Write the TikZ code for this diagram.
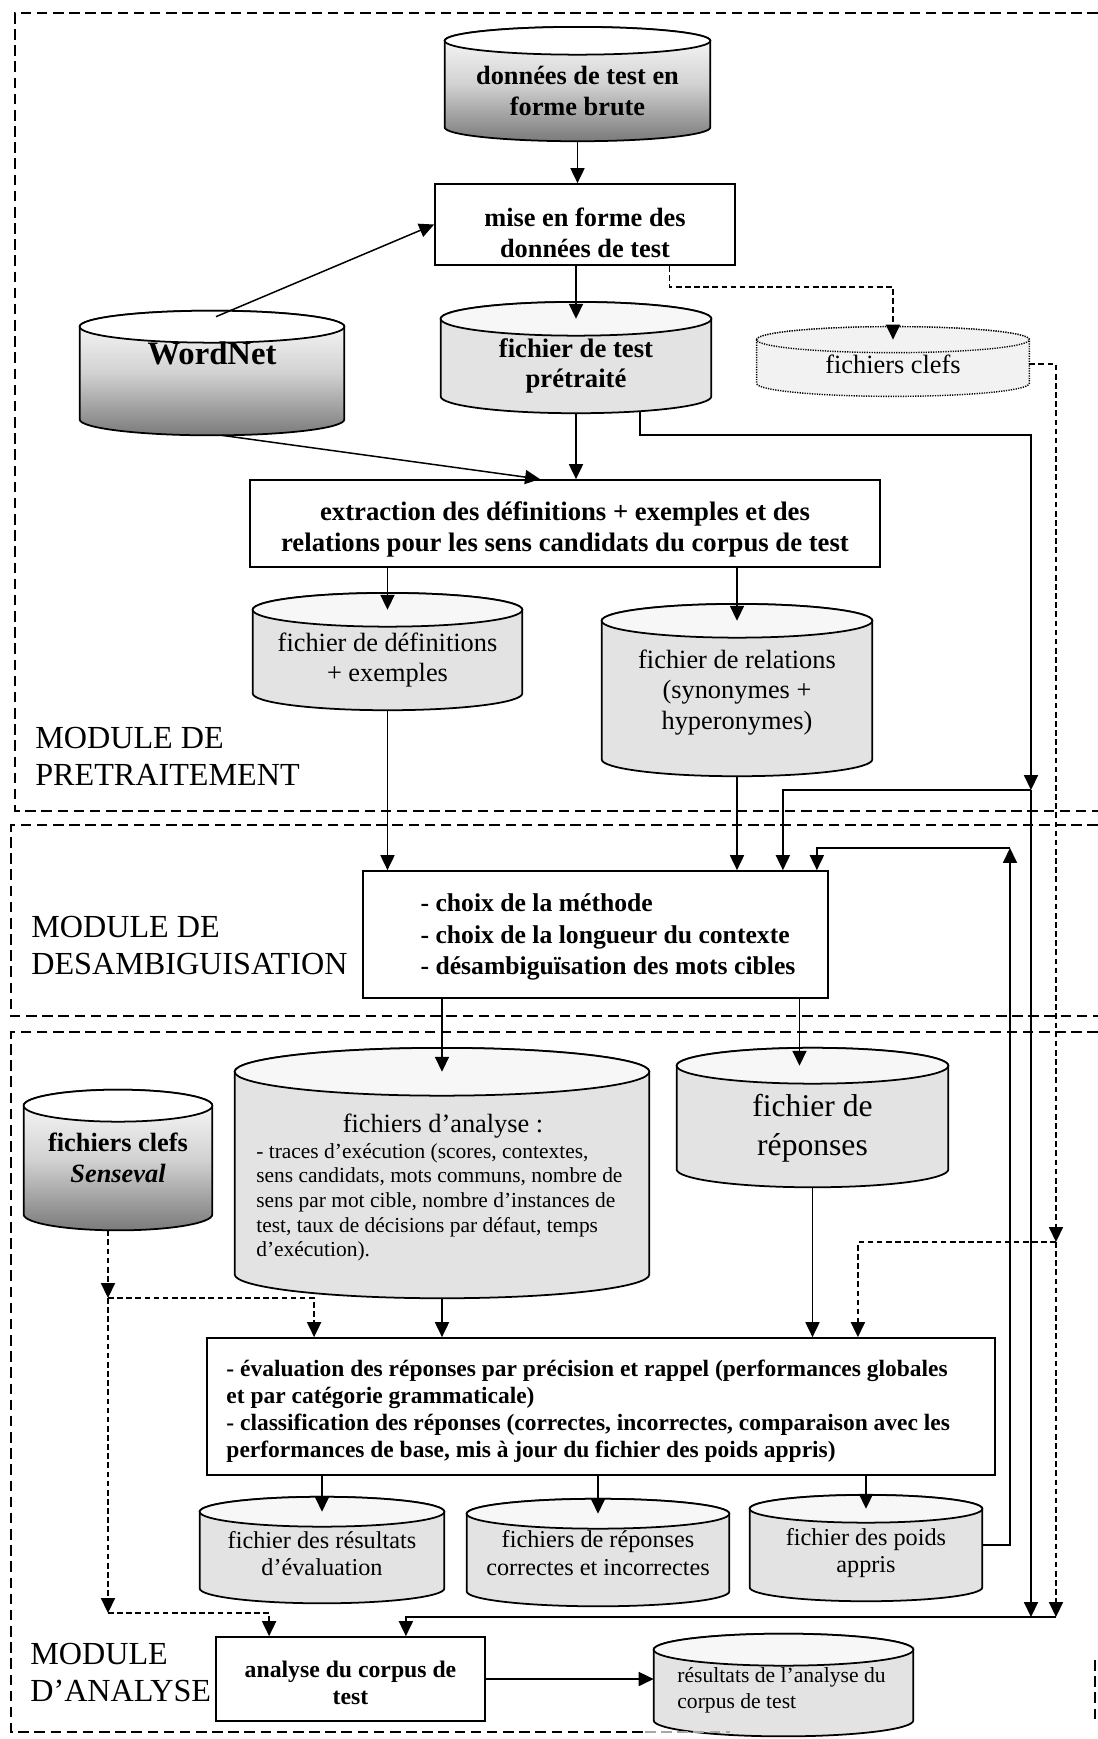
\documentclass[tikz,border=0pt]{standalone}
\usepackage{fontspec}
\setmainfont{Liberation Serif}
\usetikzlibrary{arrows.meta,calc,fit,backgrounds}

% Storage drum behind a node: the node spans the visible body from the
% front rim of the top face down to the centre of the bottom face.
% #1 node name, #2 half height of the end ellipses, #3 body style, #4 top style
\newcommand\drum[4]{%
  \path[#3] let \p1=(#1.north west), \p2=(#1.south east), \n1={0.5*(\x2-\x1)} in
    (\x1,{\y1+#2}) -- (\x1,\y2)
    arc[start angle=180,end angle=360,x radius=\n1*1pt,y radius=#2]
    -- (\x2,{\y1+#2})
    arc[start angle=0,end angle=180,x radius=\n1*1pt,y radius=#2] -- cycle;
  \coordinate (#1-top) at ($(#1.north)+(0pt,#2)$);
  \coordinate (#1-bot) at ($(#1.south)-(0pt,#2)$);
  \path[#4] let \p1=(#1.north west), \p2=(#1.south east), \n1={0.5*(\x2-\x1)} in
    (#1-top) ellipse[x radius=\n1*1pt,y radius=#2];
}

\begin{document}
\begin{tikzpicture}[x=0.02cm,y=-0.02cm,
  frame/.style={line width=1.1pt, dash pattern=on 6pt off 3.2pt},
  box/.style={draw, line width=1pt, inner sep=0pt},
  drumnode/.style={inner sep=0pt},
  txt/.style={inner sep=0pt},
  arr/.style={line width=0.85pt, -{Triangle[length=8.5pt,width=8pt]}},
  darr/.style={arr, dash pattern=on 3.2pt off 2pt},
  bt/.style={font=\fontsize{15}{17.5}\selectfont\bfseries, align=center},
  rt/.style={font=\fontsize{15}{17.5}\selectfont, align=center},
  ot/.style={font=\fontsize{13.8}{15.8}\selectfont, align=center},
  modlabel/.style={font=\fontsize{18.3}{20.7}\selectfont, align=left, inner sep=0pt, anchor=north west},
  greybody/.style={draw, line width=1pt, fill=black!11},
  greytop/.style={draw, line width=1pt, fill=black!3},
  shadebody/.style={draw, line width=1pt, top color=white, bottom color=black!52, middle color=black!18},
  whitetop/.style={draw, line width=1pt, fill=white},
  dotbody/.style={draw, line width=0.8pt, dash pattern=on 0.7pt off 0.7pt, fill=black!5},
]
\useasboundingbox (0,0) rectangle (1098,1739);

% module frames
\draw[frame] (1098,13) -- (15,13) -- (15,811) -- (1098,811);
\draw[frame] (1098,825) -- (11,825) -- (11,1016) -- (1098,1016);
\draw[frame] (1098,1032) -- (11,1032) -- (11,1732) -- (645,1732);
\draw[frame, black!35] (645,1732) -- (730,1732);
\draw[frame] (1095,1660) -- (1095,1723);

% module names
\node[modlabel] (lblP) at (35,727) {MODULE DE\\PRETRAITEMENT};
\node[modlabel] (lblD) at (31,916) {MODULE DE\\DESAMBIGUISATION};
\node[modlabel] (lblA) at (30,1643) {MODULE\\D’ANALYSE};

% processing steps
\node[box,fit={(435,184) (735,265)}] (mise) {};
\node[box,fit={(250,480) (880,567)}] (extr) {};
\node[box,fit={(363,871) (828,998)}] (desamb) {};
\node[box,fit={(207,1338) (995,1475)}] (eval) {};
\node[box,fit={(216,1637) (485,1721)}] (anl) {};

\node[txt,bt] (mise-t) at ($(mise)+(0,8)$) {mise en forme des\\données de test};
\node[txt,bt,font=\fontsize{15.2}{17.8}\selectfont\bfseries] (extr-t) at ($(extr)+(0,6)$) {extraction des définitions + exemples et des\\relations pour les sens candidats du corpus de test};
\node[txt,bt,align=left,font=\fontsize{14.6}{17.8}\selectfont\bfseries] (desamb-t) at (608,937) {- choix de la méthode\\- choix de la longueur du contexte\\- désambiguïsation des mots cibles};
\node[txt,anchor=west,align=left,font=\fontsize{13.35}{15.3}\selectfont\bfseries] (eval-t) at ($(eval.west)+(20,5)$) {- évaluation des réponses par précision et rappel (performances globales\\et par catégorie grammaticale)\\- classification des réponses (correctes, incorrectes, comparaison avec les\\performances de base, mis à jour du fichier des poids appris)};
\node[txt,align=center,font=\fontsize{13.5}{15.7}\selectfont\bfseries] (anl-t) at ($(anl)+(0,4)$) {analyse du corpus de\\test};

% data stores
\node[drumnode,fit={(445,55) (710,127)}] (brute) {};
\node[drumnode,fit={(80,343) (344,419)}] (wn) {};
\node[drumnode,fit={(441,336) (711,396)}] (pre) {};
\node[drumnode,fit={(757,353) (1029,383)}] (clefs) {};
\node[drumnode,fit={(253,627) (522,693)}] (defs) {};
\node[drumnode,fit={(602,638) (872,759)}] (rel) {};
\node[drumnode,fit={(24,1122) (212,1214)}] (sens) {};
\node[drumnode,fit={(235,1096) (649,1274)}] (ana) {};
\node[drumnode,fit={(677,1084) (948,1169)}] (rep) {};
\node[drumnode,fit={(200,1527) (444,1588)}] (o1) {};
\node[drumnode,fit={(467,1529) (729,1591)}] (o2) {};
\node[drumnode,fit={(750,1523) (982,1587)}] (o3) {};
\node[drumnode,fit={(654,1666) (913,1720)}] (resa) {};

\node[txt,bt] (brute-t) at (brute) {données de test en\\forme brute};
\node[txt,font=\fontsize{18.6}{21}\selectfont\bfseries] (wn-t) at ($(wn)+(0,-28)$) {WordNet};
\node[txt,bt,font=\fontsize{15.2}{17.5}\selectfont\bfseries] (pre-t) at (pre) {fichier de test\\prétraité};
\node[txt,rt] (clefs-t) at ($(clefs)+(0,-4)$) {fichiers clefs};
\node[txt,rt] (defs-t) at (defs) {fichier de définitions\\+ exemples};
\node[txt,rt] (rel-t) at ($(rel)+(0,-6)$) {fichier de relations\\(synonymes +\\hyperonymes)};
\node[txt,bt] (sens-t) at ($(sens)+(0,-10)$) {fichiers clefs\\\textit{Senseval}};
\node[txt,font=\fontsize{15}{17}\selectfont] (ana-t) at (443,1126) {fichiers d’analyse :};
\node[txt,font=\fontsize{12.2}{14}\selectfont,align=left,anchor=north west] (ana-l) at (256,1143) {- traces d’exécution (scores, contextes,\\sens candidats, mots communs, nombre de\\sens par mot cible, nombre d’instances de\\test, taux de décisions par défaut, temps\\d’exécution).};
\node[txt,font=\fontsize{18}{22}\selectfont,align=center] (rep-t) at ($(rep)+(0,2)$) {fichier de\\réponses};
\node[txt,ot] (o1-t) at ($(o1)+(0,-4)$) {fichier des résultats\\d’évaluation};
\node[txt,ot] (o2-t) at ($(o2)+(0,-7)$) {fichiers de réponses\\correctes et incorrectes};
\node[txt,ot] (o3-t) at ($(o3)+(0,-2)$) {fichier des poids\\appris};
\node[txt,font=\fontsize{12.3}{15}\selectfont,align=left] (resa-t) at ($(resa)+(-2,-3)$) {résultats de l’analyse du\\corpus de test};

\begin{pgfonlayer}{background}
  \fill[white] (0,0) rectangle (1098,1739);
  \drum{brute}{7.9pt}{shadebody}{whitetop}
  \drum{wn}{9.1pt}{shadebody}{whitetop}
  \drum{sens}{9.1pt}{shadebody}{whitetop}
  \drum{pre}{9.6pt}{greybody}{greytop}
  \drum{clefs}{7.4pt}{dotbody}{dotbody}
  \drum{defs}{9.6pt}{greybody}{greytop}
  \drum{rel}{9.6pt}{greybody}{greytop}
  \drum{ana}{13.6pt}{greybody}{greytop}
  \drum{rep}{10.2pt}{greybody}{greytop}
  \drum{o1}{8.5pt}{greybody}{greytop}
  \drum{o2}{8.5pt}{greybody}{greytop}
  \drum{o3}{7.9pt}{greybody}{greytop}
  \drum{resa}{9.1pt}{greybody}{greytop}
\end{pgfonlayer}

% junctions of the routed lines
\coordinate (railA) at (1031,435);
\coordinate (jA) at (1031,790);
\coordinate (jB) at (1031,1617);
\coordinate (jC) at (1056,1617);
\coordinate (jD) at (1056,1242);
\coordinate (jE) at (1010,848);
\coordinate (jF) at (108,1298);
\coordinate (jG) at (108,1613);

% preprocessing
\draw[arr] (brute-bot) -- (brute-bot |- mise.north);
\draw[arr] ($(wn-top)+(4,-10)$) -- (mise.west);
\draw[arr] (pre-top |- mise.south) -- (pre-top);
\coordinate (mk) at ($(mise.south west)!0.78!(mise.south east)$);
\draw[darr] (mk) -- ++(0,21) -| (clefs-top);
\draw[arr] ([xshift=0.2cm]wn-bot) -- ([xshift=-0.5cm]extr.north);
\draw[arr] (pre-bot) -- (pre-bot |- extr.north);
\draw[arr] ([xshift=1.28cm,yshift=0.05cm]pre-bot) |- (railA) -- (jA);
\draw[arr] (defs-top |- extr.south) -- (defs-top);
\draw[arr] (rel-top |- extr.south) -- (rel-top);

% disambiguation inputs
\draw[arr] (defs-bot) -- (defs-bot |- desamb.north);
\draw[arr] (rel-bot) -- (rel-bot |- desamb.north);
\draw[arr] (jA) -| ([xshift=-0.92cm]desamb.north east);
\draw[arr] (jA) -- (jB);
\draw[arr] ([yshift=0.2cm]o3.east) -| (jE);
\draw[arr] (jE) -| ([xshift=-0.24cm]desamb.north east);

% key files
\draw[darr] ([yshift=0.08cm]clefs.east) -| (jD);
\draw[darr] (jD) -| ([xshift=-2.76cm]eval.north east);
\draw[darr] (jD) -- (jC);
\draw[arr] (jC) -| ([xshift=-1.6cm]anl.north east);
\draw[darr] (jF |- sens-bot) -- (jF);
\draw[darr] (jF) -| ([xshift=2.16cm]eval.north west);
\draw[darr] (jF) -- (jG);
\draw[darr] (jG) -| ([xshift=1.08cm]anl.north west);

% disambiguation outputs and evaluation
\draw[arr] (ana-top |- desamb.south) -- (ana-top);
\coordinate (repin) at ([xshift=-0.26cm]rep-top);
\draw[arr] (repin |- desamb.south) -- (repin);
\draw[arr] (ana-bot) -- (ana-bot |- eval.north);
\draw[arr] (rep-bot) -- (rep-bot |- eval.north);
\foreach \o in {o1,o2,o3} \draw[arr] (\o-top |- eval.south) -- (\o-top);
\draw[arr] (anl.east) -- (anl.east -| resa.west);
\end{tikzpicture}
\end{document}
